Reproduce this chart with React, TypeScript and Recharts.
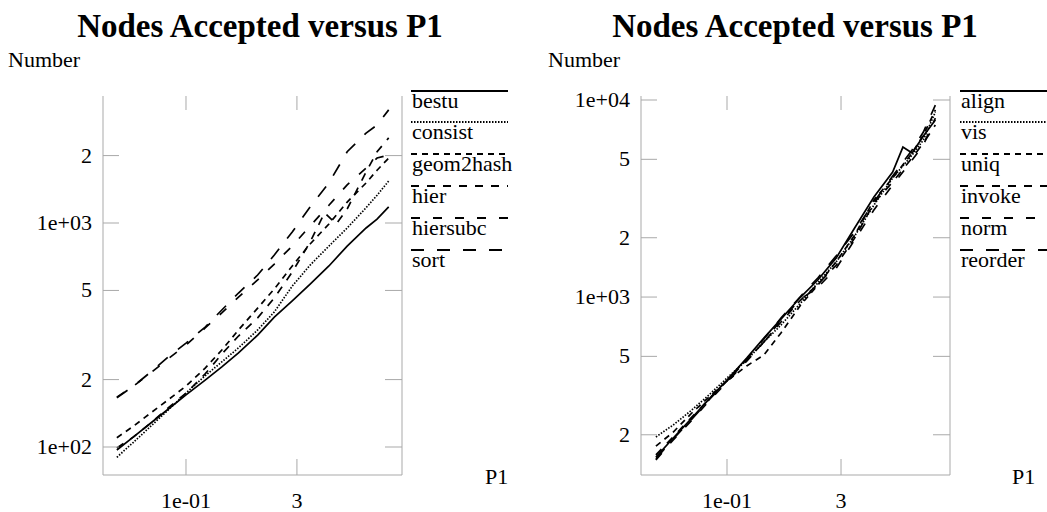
import { LineChart, Line, XAxis, YAxis } from "recharts";

const FONT = '"Liberation Serif", "Times New Roman", Times, serif';
const GRID = "#a9a9a9";

// P1 sample points (shared by most series)
const P1 = [0.012, 0.02, 0.035, 0.06, 0.1, 0.18, 0.3, 0.5, 0.9, 1.5, 2.6, 4.5, 8, 14, 25, 35, 50];
const HIER_P1 = [0.012, 0.02, 0.035, 0.06, 0.1, 0.18, 0.3, 0.5, 0.9, 1.5, 2.6, 4.5, 7, 10, 14, 25, 35, 50];
const ALIGN_P1 = [0.012, 0.02, 0.035, 0.06, 0.1, 0.18, 0.3, 0.5, 0.9, 1.5, 2.6, 4.5, 8, 14, 19, 25, 35, 50];

// left panel
const BESTU = [97, 111, 129, 149, 171, 199, 228, 263, 316, 380, 449, 534, 643, 789, 950, 1040, 1180];
const CONSIST = [90, 105, 125, 148, 174, 208, 240, 277, 333, 401, 523, 649, 789, 950, 1170, 1330, 1540];
const GEOM2HASH = [110, 124, 143, 164, 187, 225, 271, 333, 417, 508, 643, 806, 990, 1240, 1510, 1720, 1950];
const HIER = [99, 111, 129, 151, 174, 212, 260, 313, 377, 463, 604, 823, 1110, 990, 1155, 1690, 2080, 2400];
const HIERSUBC = [167, 187, 216, 250, 285, 340, 397, 467, 557, 656, 790, 970, 1200, 1480, 1760, 1950, 2010];
const SORT = [166, 187, 218, 255, 291, 343, 409, 487, 586, 720, 912, 1180, 1510, 2080, 2520, 2740, 3200];

// right panel
const ALIGN = [154, 192, 243, 307, 379, 490, 619, 773, 1000, 1220, 1580, 2240, 3220, 4310, 5770, 5380, 6570, 7920];
const VIS = [195, 224, 267, 322, 388, 479, 591, 721, 932, 1180, 1510, 2040, 2930, 4020, 5260, 6270, 8690];
const UNIQ = [175, 206, 258, 314, 375, 447, 508, 657, 911, 1150, 1510, 2060, 3110, 4020, 5380, 6640, 8900];
const INVOKE = [158, 195, 246, 307, 375, 479, 591, 747, 966, 1160, 1450, 1990, 3000, 3840, 5080, 6050, 7470];
const NORM = [149, 188, 237, 300, 370, 473, 591, 764, 977, 1120, 1400, 1950, 2770, 3700, 4960, 5910, 8100];
const REORDER = [151, 190, 240, 304, 375, 485, 612, 782, 1010, 1250, 1620, 2140, 3040, 4110, 5580, 6880, 9430];

const X_TICKS = [0.1, 3];
const X_LABELS = ["1e-01", "3"];
const LEFT_Y_TICKS = [100, 200, 500, 1000, 2000];
const LEFT_Y_LABELS = ["1e+02", "2", "5", "1e+03", "2"];
const RIGHT_Y_TICKS = [200, 500, 1000, 2000, 5000, 10000];
const RIGHT_Y_LABELS = ["2", "5", "1e+03", "2", "5", "1e+04"];

const DASHES = [undefined, "1.5 1.5", "6 5", "8 8", "9 13", "13 13"];

type Series = { name: string; x: number[]; y: number[] };

const LEFT_SERIES: Series[] = [
  { name: "bestu", x: P1, y: BESTU },
  { name: "consist", x: P1, y: CONSIST },
  { name: "geom2hash", x: P1, y: GEOM2HASH },
  { name: "hier", x: HIER_P1, y: HIER },
  { name: "hiersubc", x: P1, y: HIERSUBC },
  { name: "sort", x: P1, y: SORT }
];

const RIGHT_SERIES: Series[] = [
  { name: "align", x: ALIGN_P1, y: ALIGN },
  { name: "vis", x: P1, y: VIS },
  { name: "uniq", x: P1, y: UNIQ },
  { name: "invoke", x: P1, y: INVOKE },
  { name: "norm", x: P1, y: NORM },
  { name: "reorder", x: P1, y: REORDER }
];

const LEGEND_ROWS = [91, 122, 154, 186, 218, 250];

interface PanelProps {
  series: Series[];
  width: number;
  margin: { top: number; right: number; bottom: number; left: number };
  xDomain: [number, number];
  yDomain: [number, number];
  yTicks: number[];
  yLabels: string[];
}

function Panel({ series, width, margin, xDomain, yDomain, yTicks, yLabels }: PanelProps) {
  const bottomTick = (p: any) => {
    const label = X_LABELS[X_TICKS.indexOf(p.payload.value)];
    return (
      <g>
        <line x1={p.x} x2={p.x} y1={p.y} y2={p.y - 16} stroke={GRID} />
        <text x={p.x} y={p.y + 33} textAnchor="middle" fontFamily={FONT} fontSize={22} fill="#000">
          {label}
        </text>
      </g>
    );
  };
  const topTick = (p: any) => (
    <line x1={p.x} x2={p.x} y1={p.y} y2={p.y + 14} stroke={GRID} />
  );
  const leftTick = (p: any) => {
    const label = yLabels[yTicks.indexOf(p.payload.value)];
    return (
      <g>
        <line x1={p.x} x2={p.x + 16} y1={p.y} y2={p.y} stroke={GRID} />
        <text x={p.x - 11} y={p.y + 7} textAnchor="end" fontFamily={FONT} fontSize={22} fill="#000">
          {label}
        </text>
      </g>
    );
  };
  const rightTick = (p: any) => (
    <line x1={p.x} x2={p.x - 17} y1={p.y} y2={p.y} stroke={GRID} />
  );

  const common = {
    type: "number" as const,
    scale: "log" as const,
    allowDataOverflow: true,
    tickSize: 0,
    tickMargin: 0,
    tickLine: false,
    interval: 0 as const
  };

  return (
    <LineChart width={width} height={512} margin={margin} style={{ overflow: "visible" }}>
      <XAxis {...common} xAxisId="b" dataKey="x" domain={xDomain} ticks={X_TICKS} height={1}
        axisLine={{ stroke: GRID }} tick={bottomTick} />
      <XAxis {...common} xAxisId="t" orientation="top" dataKey="x" domain={xDomain} ticks={X_TICKS} height={1}
        axisLine={false} tick={topTick} />
      <YAxis {...common} yAxisId="l" dataKey="y" domain={yDomain} ticks={yTicks} width={1}
        axisLine={{ stroke: GRID }} tick={leftTick} />
      <YAxis {...common} yAxisId="r" orientation="right" dataKey="y" domain={yDomain} ticks={yTicks} width={1}
        axisLine={{ stroke: GRID }} tick={rightTick} />
      {series.map((s, i) => (
        <Line
          key={s.name}
          xAxisId="b"
          yAxisId="l"
          data={s.x.map((x, k) => ({ x, y: s.y[k] }))}
          dataKey="y"
          name={s.name}
          type="linear"
          stroke="#000"
          strokeWidth={1.7}
          strokeDasharray={DASHES[i]}
          dot={false}
          activeDot={false}
          isAnimationActive={false}
        />
      ))}
    </LineChart>
  );
}

function LegendBox({ series, x1, x2 }: { series: Series[]; x1: number; x2: number }) {
  return (
    <g>
      {series.map((s, i) => (
        <g key={s.name}>
          <line
            x1={x1}
            x2={x2}
            y1={LEGEND_ROWS[i]}
            y2={LEGEND_ROWS[i]}
            stroke="#000"
            strokeWidth={2}
            strokeDasharray={DASHES[i]}
          />
          <text x={x1 + 1} y={LEGEND_ROWS[i] + 17} fontFamily={FONT} fontSize={22} fill="#000">
            {s.name}
          </text>
        </g>
      ))}
    </g>
  );
}

export default function App() {
  return (
    <div style={{ position: "absolute", left: 0, top: 0, width: 1047, height: 512, background: "#fff", overflow: "hidden" }}>
      <div style={{ position: "absolute", left: 0, top: 0 }}>
        <Panel
          series={LEFT_SERIES}
          width={520}
          margin={{ top: 95, right: 117, bottom: 36, left: 102 }}
          xDomain={[0.00785, 75.2]}
          yDomain={[75, 3690]}
          yTicks={LEFT_Y_TICKS}
          yLabels={LEFT_Y_LABELS}
        />
      </div>
      <div style={{ position: "absolute", left: 520, top: 0 }}>
        <Panel
          series={RIGHT_SERIES}
          width={527}
          margin={{ top: 95, right: 96, bottom: 36, left: 120 }}
          xDomain={[0.00769, 77.4]}
          yDomain={[125, 10480]}
          yTicks={RIGHT_Y_TICKS}
          yLabels={RIGHT_Y_LABELS}
        />
      </div>
      <svg width={1047} height={512} style={{ position: "absolute", left: 0, top: 0, pointerEvents: "none" }}>
        <text x={260} y={37} textAnchor="middle" fontFamily={FONT} fontSize={33} fontWeight="bold">
          Nodes Accepted versus P1
        </text>
        <text x={795} y={37} textAnchor="middle" fontFamily={FONT} fontSize={33} fontWeight="bold">
          Nodes Accepted versus P1
        </text>
        <text x={8} y={67} fontFamily={FONT} fontSize={22}>Number</text>
        <text x={548} y={67} fontFamily={FONT} fontSize={22}>Number</text>
        <text x={485} y={484} fontFamily={FONT} fontSize={22}>P1</text>
        <text x={1012} y={484} fontFamily={FONT} fontSize={22}>P1</text>
        <LegendBox series={LEFT_SERIES} x1={411} x2={508} />
        <LegendBox series={RIGHT_SERIES} x1={960} x2={1047} />
      </svg>
    </div>
  );
}
